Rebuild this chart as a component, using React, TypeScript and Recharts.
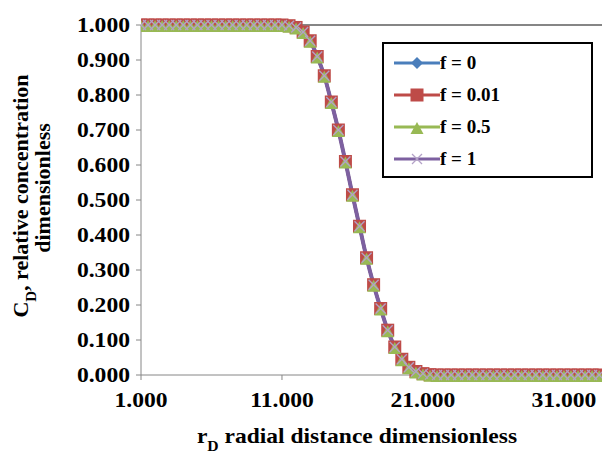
import { ComposedChart, Line, XAxis, YAxis, ReferenceLine } from "recharts"

// radial distance (dimensionless)
const rD = [
  1, 1.5, 2, 2.5, 3, 3.5, 4, 4.5, 5, 5.5, 6, 6.5, 7, 7.5, 8, 8.5, 9, 9.5, 10, 10.5, 11,
  11.5, 12, 12.5, 13, 13.5, 14, 14.5, 15, 15.5, 16, 16.5, 17, 17.5, 18, 18.5, 19, 19.5, 20, 20.5, 21, 21.5,
  22, 22.5, 23, 23.5, 24, 24.5, 25, 25.5, 26, 26.5, 27, 27.5, 28, 28.5, 29, 29.5, 30, 30.5, 31, 31.5, 32, 32.5, 33, 33.5,
]

const f0 = [
  1, 1, 1, 1, 1, 1, 1, 1, 1, 1, 1, 1, 1, 1, 1, 1, 1, 1, 1, 1, 1,
  0.998, 0.993, 0.98, 0.955, 0.91, 0.855, 0.78, 0.7, 0.61, 0.515, 0.425, 0.335, 0.258, 0.19, 0.128, 0.08, 0.045, 0.022, 0.01, 0.004, 0.001,
  0, 0, 0, 0, 0, 0, 0, 0, 0, 0, 0, 0, 0, 0, 0, 0, 0, 0, 0, 0, 0, 0, 0, 0,
]
const f001 = [
  1, 1, 1, 1, 1, 1, 1, 1, 1, 1, 1, 1, 1, 1, 1, 1, 1, 1, 1, 1, 1,
  0.998, 0.993, 0.98, 0.955, 0.91, 0.855, 0.78, 0.7, 0.61, 0.515, 0.425, 0.335, 0.258, 0.19, 0.128, 0.08, 0.045, 0.022, 0.01, 0.004, 0.001,
  0, 0, 0, 0, 0, 0, 0, 0, 0, 0, 0, 0, 0, 0, 0, 0, 0, 0, 0, 0, 0, 0, 0, 0,
]
const f05 = [
  1, 1, 1, 1, 1, 1, 1, 1, 1, 1, 1, 1, 1, 1, 1, 1, 1, 1, 1, 1, 1,
  0.998, 0.993, 0.98, 0.955, 0.91, 0.855, 0.78, 0.7, 0.61, 0.515, 0.425, 0.335, 0.258, 0.19, 0.128, 0.08, 0.045, 0.022, 0.01, 0.004, 0.001,
  0, 0, 0, 0, 0, 0, 0, 0, 0, 0, 0, 0, 0, 0, 0, 0, 0, 0, 0, 0, 0, 0, 0, 0,
]
const f1 = [
  1, 1, 1, 1, 1, 1, 1, 1, 1, 1, 1, 1, 1, 1, 1, 1, 1, 1, 1, 1, 1,
  0.998, 0.993, 0.98, 0.955, 0.91, 0.855, 0.78, 0.7, 0.61, 0.515, 0.425, 0.335, 0.258, 0.19, 0.128, 0.08, 0.045, 0.022, 0.01, 0.004, 0.001,
  0, 0, 0, 0, 0, 0, 0, 0, 0, 0, 0, 0, 0, 0, 0, 0, 0, 0, 0, 0, 0, 0, 0, 0,
]

const xTicks = [1, 11, 21, 31]
const yTicks = [0, 0.1, 0.2, 0.3, 0.4, 0.5, 0.6, 0.7, 0.8, 0.9, 1]

const data = rD.map((x, i) => ({ x, f0: f0[i], f001: f001[i], f05: f05[i], f1: f1[i] }))

const FONT = "Liberation Serif, DejaVu Serif, Times New Roman, serif"

const Diamond = ({ cx, cy, fill }: any) => (
  <polygon points={`${cx},${cy - 6} ${cx + 6},${cy} ${cx},${cy + 6} ${cx - 6},${cy}`} fill={fill} />
)
const Square = ({ cx, cy, fill }: any) => (
  <rect x={cx - 6.5} y={cy - 6.5} width={13} height={13} fill={fill} />
)
const Triangle = ({ cx, cy, fill }: any) => (
  <polygon points={`${cx},${cy - 5} ${cx + 6.5},${cy + 7} ${cx - 6.5},${cy + 7}`} fill={fill} />
)
const Cross = ({ cx, cy, fill }: any) => (
  <g stroke={fill} strokeWidth={1.3}>
    <line x1={cx - 5} y1={cy - 5} x2={cx + 5} y2={cy + 5} />
    <line x1={cx - 5} y1={cy + 5} x2={cx + 5} y2={cy - 5} />
  </g>
)

const series = [
  { key: "f0", name: "f = 0", color: "#4A7EBB", marker: "#4A7EBB", Shape: Diamond },
  { key: "f001", name: "f = 0.01", color: "#BE4B48", marker: "#BE4B48", Shape: Square },
  { key: "f05", name: "f = 0.5", color: "#98B954", marker: "#98B954", Shape: Triangle },
  { key: "f1", name: "f = 1", color: "#7D60A0", marker: "#B3A2C7", Shape: Cross },
]

const YTick = ({ x, y, payload }: any) => (
  <text
    transform={`translate(${x - 4},${y}) scale(1.18,1)`}
    textAnchor="end"
    dy="0.34em"
    style={{ fontFamily: FONT, fontWeight: 700, fontSize: 20, fill: "#000" }}
  >
    {payload.value.toFixed(3)}
  </text>
)

const XTick = ({ x, y, payload }: any) => (
  <text
    transform={`translate(${x},${y + 25}) scale(1.18,1)`}
    textAnchor="middle"
    style={{ fontFamily: FONT, fontWeight: 700, fontSize: 20, fill: "#000" }}
  >
    {payload.value.toFixed(3)}
  </text>
)

export default function App() {
  return (
    <div style={{ position: "relative", width: 602, height: 453, background: "#fff" }}>
      <style>{`body{margin:0}`}</style>
      <ComposedChart
        width={602}
        height={453}
        data={data}
        margin={{ top: 25, right: 0, bottom: 28, left: 0 }}
      >
        <XAxis
          dataKey="x"
          type="number"
          domain={[1, 33.7]}
          ticks={xTicks}
          allowDataOverflow
          tick={<XTick />}
          tickSize={5}
          height={50}
          stroke="#868686"
          tickLine={{ stroke: "#868686" }}
        />
        <YAxis
          type="number"
          domain={[0, 1]}
          ticks={yTicks}
          tick={<YTick />}
          tickSize={5}
          width={141}
          stroke="#868686"
          tickLine={{ stroke: "#868686" }}
        />
        <ReferenceLine y={1} stroke="#868686" strokeWidth={2} />
        {series.map((s) => (
          <Line
            key={s.key}
            dataKey={s.key}
            name={s.name}
            type="monotone"
            stroke={s.color}
            strokeWidth={s.key === "f1" ? 4 : 3}
            isAnimationActive={false}
            dot={(p: any) => <s.Shape key={`${s.key}-${p.index}`} cx={p.cx} cy={p.cy} fill={s.marker} />}
            activeDot={false}
          />
        ))}
        <text
          transform="translate(28,196) rotate(-90)"
          textAnchor="middle"
          style={{ fontFamily: FONT, fontWeight: 700, fontSize: 22 }}
        >
          C<tspan baselineShift="sub" fontSize={15}>D</tspan>, relative concentration
        </text>
        <text
          transform="translate(50,188) rotate(-90)"
          textAnchor="middle"
          style={{ fontFamily: FONT, fontWeight: 700, fontSize: 22 }}
        >
          dimensionless
        </text>
        <text
          transform="translate(357,443) scale(1.12,1)"
          textAnchor="middle"
          style={{ fontFamily: FONT, fontWeight: 700, fontSize: 21 }}
        >
          r<tspan baselineShift="sub" fontSize={14}>D</tspan> radial distance dimensionless
        </text>
      </ComposedChart>

      <div
        style={{
          position: "absolute",
          left: 382,
          top: 42,
          width: 207,
          height: 132,
          border: "2px solid #000",
          background: "#fff",
          fontFamily: FONT,
          fontWeight: 700,
          fontSize: 19,
        }}
      >
        {series.map((s, i) => (
          <div
            key={s.key}
            style={{ position: "absolute", left: 10, top: 6 + i * 32, height: 26, display: "flex", alignItems: "center" }}
          >
            <svg width={46} height={20}>
              <line x1={0} y1={10} x2={46} y2={10} stroke={s.color} strokeWidth={3} />
              <s.Shape cx={23} cy={10} fill={s.marker} />
            </svg>
            <span>{s.name}</span>
          </div>
        ))}
      </div>
    </div>
  )
}
